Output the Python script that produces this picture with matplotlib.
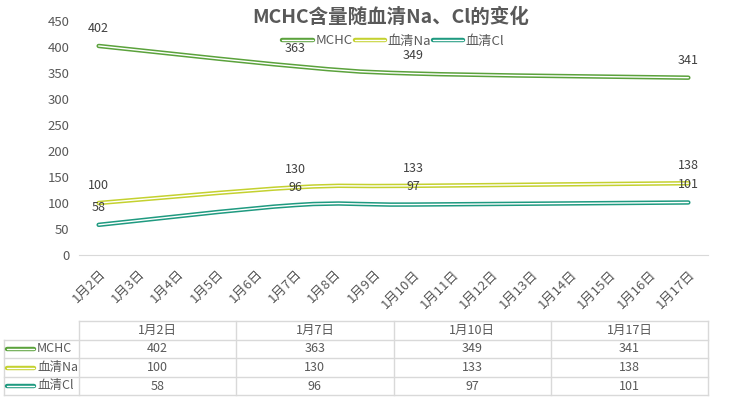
import numpy as np
import matplotlib.pyplot as plt
from matplotlib.path import Path
from matplotlib.patches import PathPatch
from matplotlib.lines import Line2D
from matplotlib.legend_handler import HandlerTuple

plt.rcParams['font.family'] = ['Noto Sans CJK SC', 'DejaVu Sans']

# data
days = [2, 7, 10, 17]
dates = ['1月2日', '1月7日', '1月10日', '1月17日']
mchc = [402, 363, 349, 341]
na = [100, 130, 133, 138]
cl = [58, 96, 97, 101]
names = ['MCHC', '血清Na', '血清Cl']
colors = ['#5ba23c', '#c4d12f', '#1f9a80']
all_days = list(range(2, 18))
title = 'MCHC含量随血清Na、Cl的变化'

GRAY = '#595959'


def smooth_path(x, y):
    # Excel-like smoothed line: bezier segments through the points
    x = np.asarray(x, float)
    y = np.asarray(y, float)
    n = len(x)
    verts = [(x[0], y[0])]
    codes = [Path.MOVETO]
    for i in range(n - 1):
        p0 = np.array([x[max(i - 1, 0)], y[max(i - 1, 0)]])
        p1 = np.array([x[i], y[i]])
        p2 = np.array([x[i + 1], y[i + 1]])
        p3 = np.array([x[min(i + 2, n - 1)], y[min(i + 2, n - 1)]])
        c1 = p1 + (p2 - p0) / 6.0
        c2 = p2 - (p3 - p1) / 6.0
        verts += [tuple(c1), tuple(c2), tuple(p2)]
        codes += [Path.CURVE4] * 3
    return Path(verts, codes)


fig = plt.figure(figsize=(7.38, 3.98), dpi=100)
ax = fig.add_axes([79 / 738, 1 - 255 / 398, 629 / 738, 234 / 398])

for vals, c in zip([mchc, na, cl], colors):
    p = smooth_path(days, vals)
    ax.add_patch(PathPatch(p, fill=False, edgecolor=c, lw=3.2, capstyle='round', zorder=3))
    ax.add_patch(PathPatch(p, fill=False, edgecolor='white', lw=1.0, capstyle='round', zorder=4))
    for d, v in zip(days, vals):
        ax.annotate(str(v), (d, v), xytext=(0, 8), textcoords='offset points',
                    ha='center', va='bottom', fontsize=9, color='#404040', zorder=5)

ax.set_xlim(1.5, 17.5)
ax.set_ylim(0, 450)
ax.set_yticks(range(0, 451, 50))
ax.set_xticks(all_days)
ax.set_xticklabels([f'1月{d}日' for d in all_days], rotation=45, ha='right',
                   rotation_mode='anchor', fontsize=9.5, color=GRAY)
ax.tick_params(axis='y', length=0, labelsize=9.5, labelcolor=GRAY, pad=7)
ax.tick_params(axis='x', length=0, pad=9)
for s in ['top', 'right', 'left']:
    ax.spines[s].set_visible(False)
ax.spines['bottom'].set_color('#d9d9d9')

handles = []
for n, c in zip(names, colors):
    handles.append((Line2D([], [], color=c, lw=3.2, solid_capstyle='round'),
                    Line2D([], [], color='white', lw=1.0, solid_capstyle='round')))
ax.legend(handles, names, handler_map={tuple: HandlerTuple(ndivide=1)},
          loc='center', bbox_to_anchor=(0.5, 1 - 20 / 234), ncol=3, frameon=False,
          fontsize=9.5, labelcolor=GRAY, handlelength=2.3, handletextpad=0.2,
          columnspacing=0.15, borderpad=0)

fig.text(0.53, 0.957, title, ha='center', va='center', fontsize=14,
         fontweight='bold', color=GRAY)

# data table below
tb = fig.add_axes([0, 0, 1, 1])
tb.set_xlim(0, 738)
tb.set_ylim(398, 0)
tb.axis('off')
col_x = np.linspace(79, 708, len(dates) + 1)
row_y = [321, 340, 358, 377, 395]
lc = '#d9d9d9'
for xv in col_x:
    tb.plot([xv, xv], [row_y[0], row_y[-1]], color=lc, lw=1)
tb.plot([4, 4], [row_y[1], row_y[-1]], color=lc, lw=1)
tb.plot([79, 708], [row_y[0], row_y[0]], color=lc, lw=1)
for yv in row_y[1:]:
    tb.plot([4, 708], [yv, yv], color=lc, lw=1)
for j, d in enumerate(dates):
    tb.text((col_x[j] + col_x[j + 1]) / 2, (row_y[0] + row_y[1]) / 2, d,
            ha='center', va='center', fontsize=9, color=GRAY)
for i, (n, vals, c) in enumerate(zip(names, [mchc, na, cl], colors)):
    yc = (row_y[i + 1] + row_y[i + 2]) / 2
    tb.plot([7, 34], [yc, yc], color=c, lw=3.2, solid_capstyle='round')
    tb.plot([7, 34], [yc, yc], color='white', lw=1.0, solid_capstyle='round')
    tb.text(37, yc, n, ha='left', va='center', fontsize=9, color=GRAY)
    for j, v in enumerate(vals):
        tb.text((col_x[j] + col_x[j + 1]) / 2, yc, str(v), ha='center',
                va='center', fontsize=9, color=GRAY)

fig.savefig('out.png', dpi=100)
